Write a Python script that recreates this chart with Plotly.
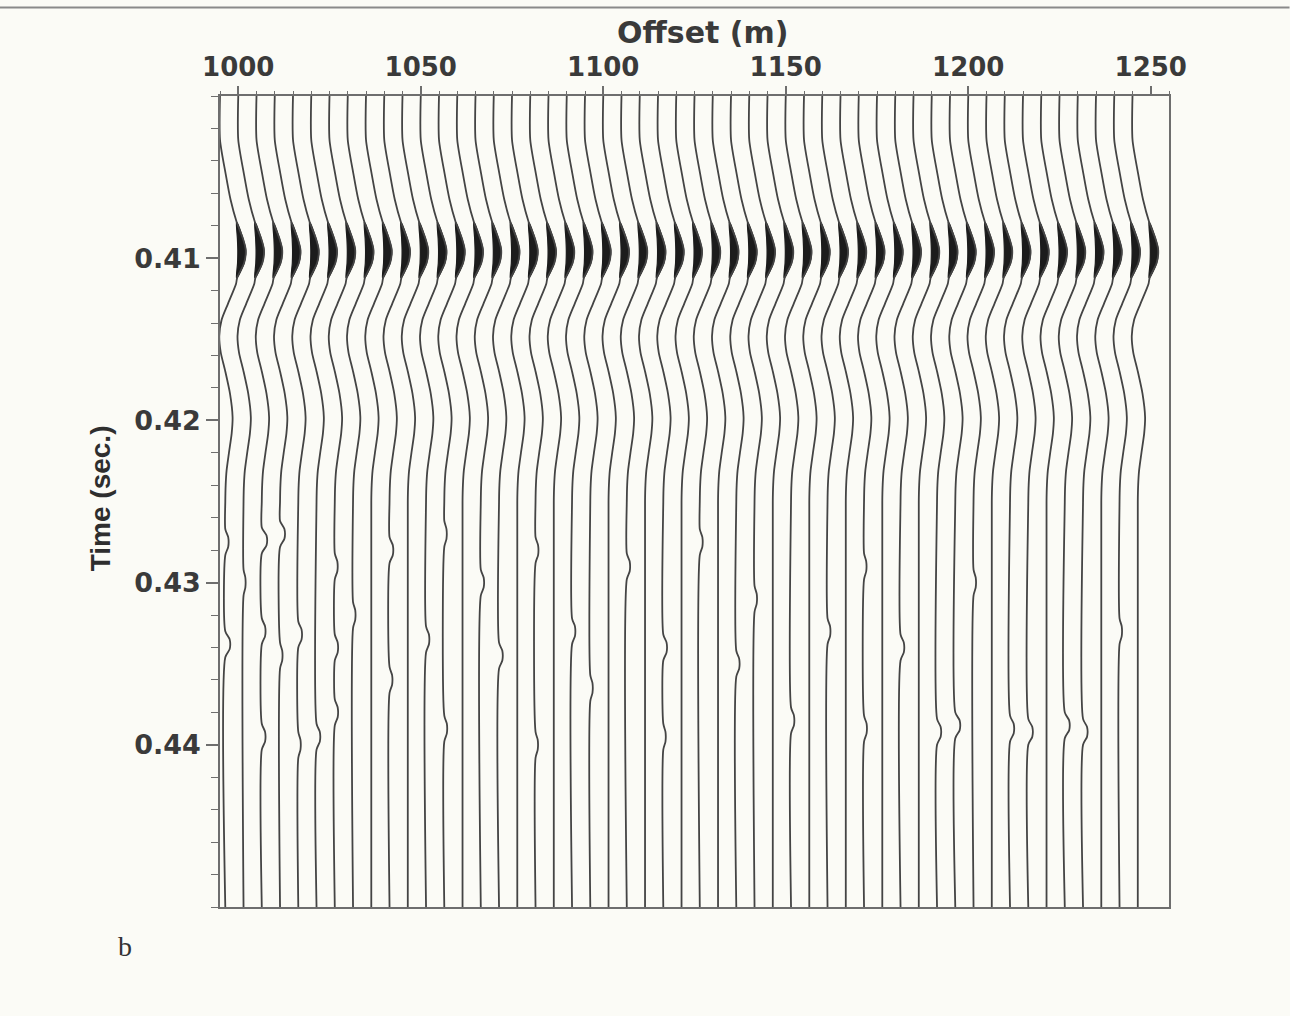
import plotly.graph_objects as go

# Receiver offsets of the plotted traces (m)
TRACE_OFFSETS = list(range(995, 1250, 5))

# Recorded wavelet: two-way time (s) and trace deflection (m of offset)
WAVELET_TIME = [0.4000, 0.4027, 0.4048, 0.4064, 0.4078, 0.4088, 0.4095, 0.4103,
                0.4112, 0.41157, 0.4128, 0.4138, 0.4148, 0.4158, 0.4169, 0.41835,
                0.4198, 0.4208, 0.4220, 0.4231, 0.4240, 0.4250, 0.4500]
WAVELET_AMP = [0.00, 0.00, 1.55, 2.90, 4.60, 6.30, 7.05, 6.60,
               4.70, 4.40, 2.20, 0.45, -0.20, 0.20, 1.37, 2.74,
               3.45, 3.20, 2.45, 1.80, 1.55, 1.45, 1.45]

# Small late arrivals on individual traces
KINK_OFFSET = [995, 995, 1000, 1005, 1005, 1005, 1010, 1010, 1015, 1015, 1020,
               1025, 1025, 1025, 1030, 1040, 1040, 1050, 1055, 1055, 1065, 1070,
               1080, 1080, 1090, 1095, 1105, 1115, 1115, 1125, 1135, 1140, 1150,
               1160, 1170, 1170, 1180, 1190, 1195, 1200, 1210, 1215, 1225, 1230,
               1240]
KINK_TIME = [0.4275, 0.4338, 0.4300, 0.4274, 0.4330, 0.4395, 0.4270, 0.4345,
             0.4332, 0.4400, 0.4395, 0.4290, 0.4340, 0.4380, 0.4320, 0.4280,
             0.4360, 0.4335, 0.4270, 0.4390, 0.4300, 0.4345, 0.4280, 0.4400,
             0.4330, 0.4365, 0.4290, 0.4340, 0.4395, 0.4275, 0.4350, 0.4310,
             0.4385, 0.4330, 0.4290, 0.4390, 0.4340, 0.4392, 0.4388, 0.4300,
             0.4390, 0.4392, 0.4388, 0.4392, 0.4330]
KINK_SIZE = [0.8, 1.2, 0.5, 1.3, 0.9, 0.9, 1.2, 0.6, 0.9, 0.6, 0.9,
             0.7, 0.8, 0.8, 0.6, 0.9, 0.7, 0.8, 0.6, 0.7, 0.8, 0.9,
             0.7, 0.6, 0.8, 0.6, 0.8, 0.9, 0.6, 0.7, 0.8, 0.6, 0.8,
             0.7, 0.6, 0.7, 0.9, 1.0, 1.2, 0.6, 1.0, 1.1, 1.2, 1.1,
             0.6]

X_TICKS = [1000, 1050, 1100, 1150, 1200, 1250]
Y_TICKS = [0.41, 0.42, 0.43, 0.44]
Y_TICK_TEXT = ["0.41", "0.42", "0.43", "0.44"]

CLIP = 4.5          # deflection above which the peak is shaded
KINK_HALF = 0.0008  # half-duration of a small arrival (s)

line_x, line_y = [], []
fill_x, fill_y = [], []
tail = WAVELET_AMP[-1]

for off in TRACE_OFFSETS:
    samples = list(zip(WAVELET_TIME, WAVELET_AMP))
    for k_off, k_t, k_s in zip(KINK_OFFSET, KINK_TIME, KINK_SIZE):
        if k_off == off:
            samples += [(k_t - KINK_HALF, tail), (k_t - 0.0003, tail + k_s),
                        (k_t + 0.0003, tail + k_s), (k_t + KINK_HALF, tail)]
    samples.sort()
    line_x += [off + a for _, a in samples] + [None]
    line_y += [t for t, _ in samples] + [None]

    peak = [(t, a) for t, a in zip(WAVELET_TIME, WAVELET_AMP) if a >= CLIP]
    outer_x = [off + a for _, a in peak]
    inner_x = [off + CLIP + 0.15 * (a - CLIP) for _, a in peak]
    ts = [t for t, _ in peak]
    fill_x += outer_x + inner_x[::-1] + [outer_x[0], None]
    fill_y += ts + ts[::-1] + [ts[0], None]

fig = go.Figure()
fig.add_trace(go.Scatter(
    x=fill_x, y=fill_y, mode="lines", fill="toself",
    fillcolor="#1c1c1c", line=dict(color="#1c1c1c", width=1.2, shape="spline", smoothing=0.8),
    hoverinfo="skip", showlegend=False))
fig.add_trace(go.Scatter(
    x=line_x, y=line_y, mode="lines",
    line=dict(color="#444444", width=1.8, shape="spline", smoothing=0.7),
    hoverinfo="skip", showlegend=False))

axis_color = "#6e6e6e"
x_tick_font = dict(family="DejaVu Sans", size=26, color="#3a3a3a", weight="bold")
y_tick_font = dict(family="DejaVu Sans", size=27, color="#3a3a3a", weight="bold")

fig.update_xaxes(
    range=[995, 1255], side="top", tickvals=X_TICKS,
    ticks="outside", ticklen=8, tickwidth=1.5, tickcolor=axis_color,
    minor=dict(dtick=5, tick0=995, ticks="outside", ticklen=3, tickwidth=1, tickcolor=axis_color),
    showline=True, mirror=True, linecolor=axis_color, linewidth=1.5,
    showgrid=False, zeroline=False, tickfont=x_tick_font)
fig.update_yaxes(
    range=[0.45, 0.40], tickvals=Y_TICKS, ticktext=Y_TICK_TEXT,
    ticks="outside", ticklen=12, tickwidth=1.5, tickcolor=axis_color,
    minor=dict(dtick=0.002, tick0=0.40, ticks="outside", ticklen=7, tickwidth=1, tickcolor=axis_color),
    showline=True, mirror=True, linecolor=axis_color, linewidth=1.5,
    showgrid=False, zeroline=False, tickfont=y_tick_font)

fig.add_annotation(text="Offset (m)", xref="paper", yref="paper", x=0.508, y=1.078,
                   showarrow=False, xanchor="center", yanchor="middle",
                   font=dict(family="DejaVu Sans", size=30, color="#3a3a3a", weight="bold"))
fig.add_annotation(text="Time (sec.)", xref="paper", yref="paper", x=-0.1264, y=0.504,
                   showarrow=False, textangle=-90, xanchor="center", yanchor="middle",
                   font=dict(family="Liberation Sans Narrow, Liberation Sans, Arial", size=28,
                             color="#2e2e2e", weight="bold"))
fig.add_annotation(text="b", xref="paper", yref="paper", x=-0.1001, y=-0.049,
                   showarrow=False, xanchor="center", yanchor="middle",
                   font=dict(family="Liberation Serif, Times New Roman", size=28, color="#333333"))

# thin page rule along the top edge
fig.add_shape(type="line", xref="paper", yref="paper", x0=-0.232, x1=1.127,
              y0=1.109, y1=1.109, line=dict(color="#8a8a8a", width=2))

fig.update_layout(
    width=1290, height=1016,
    margin=dict(l=220, r=121, t=96, b=109),
    paper_bgcolor="#fbfbf6", plot_bgcolor="#fbfbf6",
    showlegend=False)

fig.write_html("out.html")
